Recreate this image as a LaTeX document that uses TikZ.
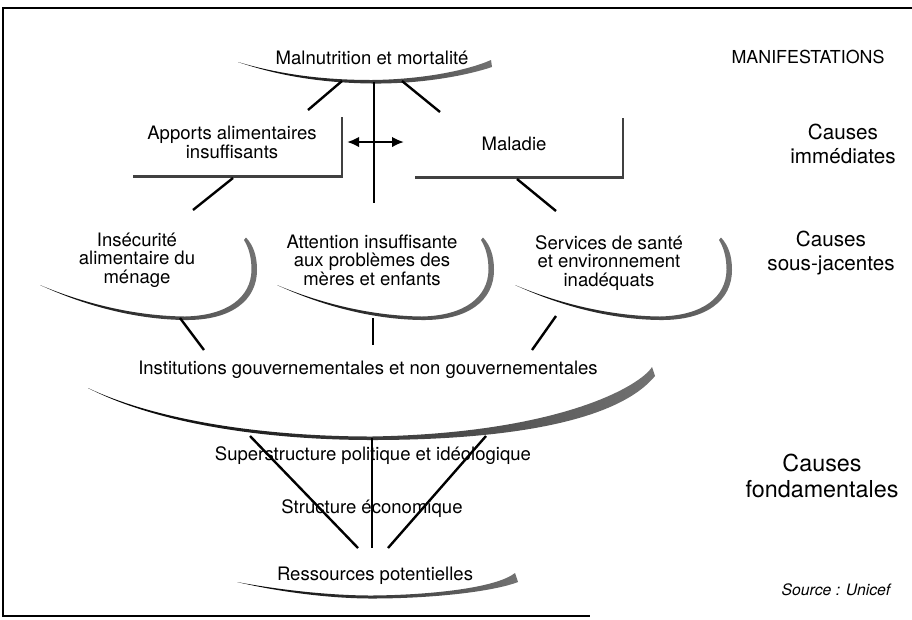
\documentclass[tikz,border=0pt]{standalone}
\usepackage{fontspec}
\setmainfont{TeX Gyre Heros}
\usetikzlibrary{arrows.meta}
\begin{document}
\begin{tikzpicture}[x=0.75pt,y=-0.75pt,
  lbl/.style={font=\fontsize{13.9}{13.7}\selectfont, align=center, inner sep=0pt, anchor=base},
  side/.style={font=\fontsize{15.5}{17.3}\selectfont, align=center, inner sep=0pt, anchor=base},
  conn/.style={line width=1.8pt},
  brk/.style={line width=2.1pt, draw=black!75},
  swoosh/.style={left color=black, right color=black!55, draw=none},
  frame/.style={line width=1.2pt}]
\useasboundingbox (0,0) rectangle (912,619);
% frame
\draw[frame] (912,8) -- (3,8) -- (3,616) -- (590,616);

% ---- manifestations
\node[lbl] (malnut) at (372,64) {Malnutrition et mortalité};
\shade[swoosh] (238,62) .. controls (285,78) and (330,83) .. (372,83.5) .. controls (420,84) and (465,76) .. (492,67) -- (491,60) .. controls (466,71) and (420,79.5) .. (372,80) .. controls (330,80) and (285,76) .. (238,62) -- cycle;
\coordinate (m1) at (342,81); \coordinate (m1e) at (308,110);
\coordinate (m2) at (374,82); \coordinate (m2e) at (374,203);
\coordinate (m3) at (402,81); \coordinate (m3e) at (440,112);
\draw[conn] (m1) -- (m1e);
\draw[conn] (m2) -- (m2e);
\draw[conn] (m3) -- (m3e);

% ---- immediate causes
\node[lbl] (apports) at (232,158) {Apports alimentaires\\insuffisants};
\draw[brk] (133,176.5) -- (342,176.5) -- (342,117);
\node[lbl] (maladie) at (514,150) {Maladie};
\draw[brk] (415,177.5) -- (623,177.5) -- (623,118);
\coordinate (arL) at (347,142); \coordinate (arR) at (404,142);
\draw[line width=1.8pt, {Latex[length=9pt,width=8pt]}-{Latex[length=9pt,width=8pt]}] (arL) -- (arR);
\coordinate (a1) at (233,178); \coordinate (a1e) at (193,210);
\coordinate (d1) at (517,179); \coordinate (d1e) at (556,211);
\draw[conn] (a1) -- (a1e);
\draw[conn] (d1) -- (d1e);

% ---- underlying causes
\node[lbl] (insec) at (137,283) {Insécurité\\alimentaire du\\ménage};
\node[lbl] (attention) at (372,285) {Attention insuffisante\\aux problèmes des\\mères et enfants};
\node[lbl] (services) at (609,286) {Services de santé\\et environnement\\inadéquats};
\foreach \ox in {0,237,475}{
  \begin{scope}[shift={(\ox,0)}]
  \shade[swoosh] (40,285) .. controls (90,308) and (140,319.5) .. (185,320) .. controls (232,320.5) and (257,300) .. (257,270) .. controls (257,255) and (253,245) .. (246,237.5) -- (244,240) .. controls (249,248) and (251.5,258) .. (251.5,270) .. controls (251,297) and (228,315.5) .. (185,316.5) .. controls (140,316) and (90,306) .. (40,285) -- cycle;
  \end{scope}
}
\coordinate (i1) at (180,318); \coordinate (i1e) at (204,350);
\coordinate (t1) at (373,318); \coordinate (t1e) at (373,345);
\coordinate (s1) at (556,316); \coordinate (s1e) at (532,350);
\draw[conn] (i1) -- (i1e);
\draw[conn] (t1) -- (t1e);
\draw[conn] (s1) -- (s1e);

% ---- basic causes
\node[lbl] (instit) at (368,374) {Institutions gouvernementales et non gouvernementales};
\shade[swoosh] (88,388) .. controls (160,425) and (270,440) .. (372,440) .. controls (480,440) and (612,428) .. (655,376) -- (652,367) .. controls (640,386) and (560,433) .. (372,436.5) .. controls (270,436.5) and (160,422) .. (88,388) -- cycle;
\node[lbl] (superstr) at (373,460) {Superstructure politique et idéologique};
\node[lbl] (struct) at (372,513) {Structure économique};
\node[lbl] (ressources) at (375,580) {Ressources potentielles};
\shade[swoosh] (237,582) .. controls (280,592) and (330,598.5) .. (372,598.5) .. controls (430,598.5) and (492,592) .. (518,582) -- (515,573) .. controls (496,588) and (430,595) .. (372,595.5) .. controls (330,595.5) and (280,590) .. (237,582) -- cycle;
\coordinate (n1) at (250,436); \coordinate (r1) at (358,548);
\coordinate (n2) at (372,438); \coordinate (r2) at (372,548);
\coordinate (n3) at (486,436); \coordinate (r3) at (388,548);
\draw[conn] (n1) -- (r1);
\draw[conn] (n2) -- (r2);
\draw[conn] (n3) -- (r3);

% ---- side labels
\node[side, font=\fontsize{13.4}{15}\selectfont] (manif) at (808,63) {MANIFESTATIONS};
\node[side] (immed) at (843,163) {Causes\\immédiates};
\node[side] (sousj) at (831,270) {Causes\\sous-jacentes};
\node[side, font=\fontsize{17.5}{19.5}\selectfont] (fond) at (822,497) {Causes\\fondamentales};
\node[side, font=\fontsize{11.8}{13}\itshape] (source) at (836,595) {Source : Unicef};
\end{tikzpicture}
\end{document}
